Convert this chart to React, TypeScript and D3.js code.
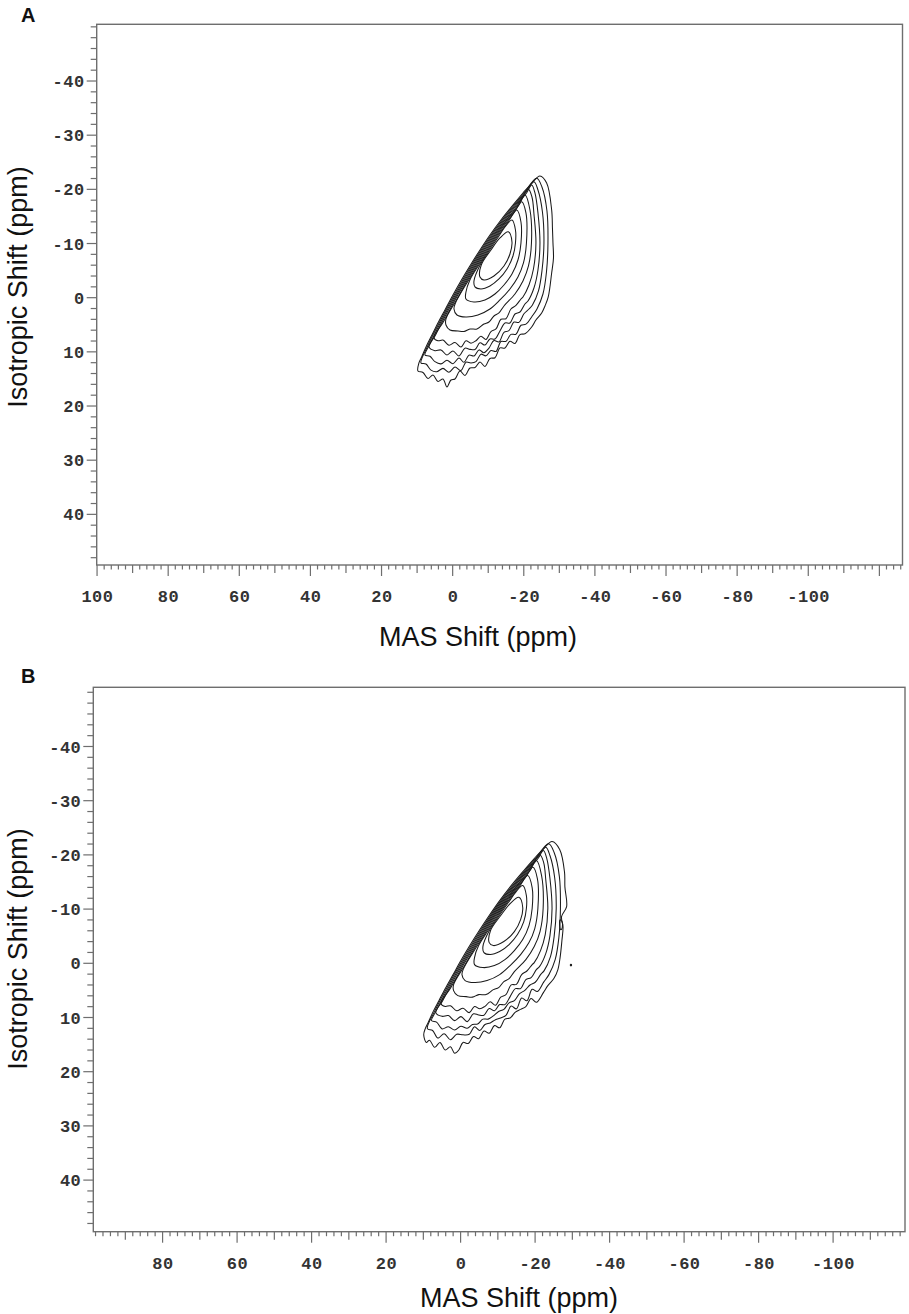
import React, { useEffect } from 'react';
import * as d3 from 'd3';

// tick labels
const isoTickLabels = [-40, -30, -20, -10, 0, 10, 20, 30, 40];
const masTickLabelsA = [100, 80, 60, 40, 20, 0, -20, -40, -60, -80, -100];
const masTickLabelsB = [80, 60, 40, 20, 0, -20, -40, -60, -80, -100];

// contour rings, [MAS ppm, isotropic ppm], outermost first
const ring0: [number, number][] = [
  [-24.55, -22.47], [-26.43, -21.17], [-27.84, -16.19], [-28.06, -12.87], [-28.21, -10.1],
  [-28.35, -7.33], [-27.84, -4.56], [-26.88, -0.13], [-25.96, 1.53], [-25.03, 2.82],
  [-23.42, 4.12], [-22.22, 5.41], [-20.33, 6.66], [-18.93, 6.81], [-17.52, 8.44],
  [-16.11, 8.03], [-14.71, 9.29], [-13.3, 9.27], [-11.9, 11.08], [-10.49, 11.22],
  [-9.08, 12.7], [-7.68, 11.87], [-6.27, 12.89], [-4.86, 12.98], [-3.46, 14.36],
  [-2.05, 13.53], [-0.65, 15.01], [0.48, 15.19], [1.6, 16.48], [2.73, 15.01],
  [4.13, 15.47], [5.54, 14.27], [6.95, 14.92], [8.35, 13.81], [9.76, 13.53],
  [9.48, 12.05], [8.72, 10.95], [7.37, 8.92], [5.82, 6.89], [3.99, 4.49],
  [2.17, 2.27], [-0.08, -0.5], [-2.47, -3.27], [-5.01, -6.04], [-7.68, -8.81],
  [-10.49, -11.57], [-13.58, -14.34], [-16.96, -17.11], [-19.77, -19.33], [-22.3, -21.17],
];
const ring1: [number, number][] = [
  [-23.62, -22.04], [-25.11, -20.44], [-26.52, -16.0], [-26.8, -10.1], [-26.38, -4.74],
  [-25.39, -0.68], [-23.71, 2.09], [-22.3, 3.47], [-20.61, 4.89], [-19.21, 5.09],
  [-17.8, 6.76], [-16.39, 6.77], [-14.99, 8.07], [-13.58, 8.09], [-12.18, 9.93],
  [-10.77, 9.77], [-9.36, 10.74], [-7.96, 10.43], [-6.55, 11.8], [-5.15, 12.04],
  [-3.74, 11.91], [-2.33, 13.44], [-0.65, 12.79], [1.04, 13.75], [2.73, 13.05],
  [4.42, 13.66], [6.1, 13.38], [7.51, 12.24], [8.91, 12.05], [7.03, 8.92],
  [3.66, 4.49], [-0.42, -0.5], [-5.34, -6.04], [-10.83, -11.57], [-17.29, -17.11],
  [-20.11, -19.33],
];
const ring2: [number, number][] = [
  [-22.86, -21.41], [-23.99, -19.88], [-25.25, -15.82], [-25.67, -10.1], [-25.11, -4.93],
  [-24.13, -1.24], [-22.44, 1.35], [-21.46, 2.09], [-20.05, 2.97], [-18.64, 4.56],
  [-17.24, 4.5], [-15.83, 6.09], [-14.43, 6.39], [-13.02, 8.16], [-11.61, 7.9],
  [-10.21, 9.3], [-8.8, 10.15], [-7.4, 9.64], [-5.99, 10.76], [-4.58, 10.61],
  [-3.18, 11.93], [-1.77, 11.15], [-0.08, 12.18], [1.6, 11.56], [3.29, 12.22],
  [4.98, 11.81], [6.38, 10.82], [7.79, 10.58], [6.69, 8.92], [3.32, 4.49],
  [-0.76, -0.5], [-5.68, -6.04], [-11.16, -11.57], [-17.63, -17.11], [-20.44, -19.33],
];
const ring3: [number, number][] = [
  [-22.22, -20.8], [-23.14, -19.33], [-23.99, -15.64], [-24.55, -10.1], [-23.99, -5.11],
  [-22.86, -1.79], [-21.18, 0.61], [-20.33, 1.16], [-18.93, 2.64], [-17.52, 3.01],
  [-16.11, 4.67], [-14.71, 4.67], [-13.3, 6.15], [-11.9, 7.62], [-10.49, 7.62],
  [-9.08, 8.75], [-7.68, 8.34], [-6.27, 9.58], [-4.86, 9.54], [-3.46, 9.32],
  [-1.77, 10.76], [-0.08, 9.84], [1.6, 10.58], [3.29, 9.65], [4.98, 9.78],
  [6.66, 9.1], [4.81, 6.89], [2.98, 4.49], [-1.1, -0.5], [-6.02, -6.04],
  [-11.5, -11.57], [-17.97, -17.11], [-20.78, -19.33],
];
const ring4: [number, number][] = [
  [-21.26, -20.01], [-22.3, -18.59], [-22.86, -15.45], [-23.42, -10.1], [-22.72, -5.3],
  [-21.46, -2.34], [-19.77, -0.13], [-19.21, 0.24], [-17.8, 1.42], [-16.39, 2.09],
  [-14.99, 3.88], [-13.58, 3.99], [-12.18, 5.78], [-10.77, 6.26], [-9.36, 7.73],
  [-7.96, 7.11], [-6.55, 7.94], [-5.15, 8.4], [-3.74, 7.96], [-2.33, 9.1],
  [-0.65, 8.29], [1.04, 8.77], [2.73, 7.83], [4.13, 7.96], [5.26, 7.44],
  [2.64, 4.49], [-1.43, -0.5], [-6.36, -6.04], [-11.84, -11.57], [-18.31, -17.11],
];
const ring5: [number, number][] = [
  [-20.33, -18.96], [-21.74, -16.19], [-22.16, -10.1], [-21.32, -5.85], [-19.77, -3.08],
  [-17.52, -0.68], [-14.43, 1.53], [-13.02, 2.82], [-11.61, 3.38], [-10.21, 4.49],
  [-8.8, 4.86], [-6.83, 5.78], [-4.86, 5.78], [-3.18, 6.24], [-1.49, 6.15],
  [0.76, 5.96], [1.88, 5.04], [1.88, 3.93], [-1.07, 0.42], [-4.16, -3.27],
  [-6.69, -6.04], [-9.36, -8.81], [-12.18, -11.57], [-15.27, -14.34], [-18.64, -17.11],
];
const ring6: [number, number][] = [
  [-19.4, -17.72], [-20.61, -15.64], [-20.75, -10.1], [-19.91, -6.41], [-18.36, -3.82],
  [-16.11, -1.61], [-13.3, 0.42], [-10.49, 2.09], [-7.11, 3.19], [-3.74, 3.56],
  [-1.21, 3.19], [-0.37, 2.09], [-0.79, 0.98], [-4.5, -3.27], [-7.03, -6.04],
  [-9.7, -8.81], [-12.51, -11.57], [-15.61, -14.34], [-17.41, -15.82],
];
const ring7: [number, number][] = [
  [-18.0, -16.19], [-19.21, -13.97], [-19.21, -10.1], [-18.36, -6.96], [-16.68, -4.38],
  [-14.43, -2.34], [-11.9, -0.68], [-9.08, 0.42], [-5.99, 0.79], [-3.74, 0.24],
  [-3.74, -1.05], [-4.84, -3.27], [-7.37, -6.04], [-10.04, -8.81], [-12.85, -11.57],
  [-15.94, -14.34],
];
const ring8: [number, number][] = [
  [-16.68, -14.34], [-17.66, -12.5], [-17.66, -10.1], [-16.96, -7.7], [-15.27, -5.3],
  [-13.02, -3.45], [-10.49, -2.16], [-7.96, -1.61], [-6.27, -1.98], [-5.99, -3.08],
  [-7.71, -6.04], [-10.38, -8.81], [-13.19, -11.57], [-14.71, -13.05],
];
const ring9: [number, number][] = [
  [-15.64, -12.18], [-16.68, -10.28], [-16.11, -8.07], [-14.43, -5.85], [-11.61, -4.01],
  [-8.8, -3.27], [-7.68, -3.82], [-8.04, -6.04], [-10.77, -8.81], [-13.3, -11.02],
];

// panel B: the three outer levels are noisier, with a notch on the right flank
const ring0B: [number, number][] = [
  [-24.55, -22.47], [-26.6, -21.0], [-27.9, -16.8], [-28.0, -14.1], [-28.46, -10.44],
  [-27.1, -8.6], [-27.5, -6.75], [-27.2, -4.2], [-26.7, -1.0], [-26.1, 1.2],
  [-25.03, 2.82], [-23.42, 4.12], [-22.22, 5.41], [-20.33, 7.2], [-18.93, 6.5],
  [-17.52, 8.0], [-16.11, 8.5], [-14.71, 9.0], [-13.3, 10.1], [-11.9, 10.3],
  [-10.49, 11.9], [-9.08, 11.5], [-7.68, 12.9], [-6.27, 12.5], [-4.86, 13.9],
  [-3.46, 13.5], [-2.05, 14.8], [-0.65, 14.6], [0.48, 16.0], [1.6, 16.6],
  [2.73, 15.4], [4.13, 16.0], [5.54, 14.6], [6.95, 15.5], [8.35, 14.2],
  [9.2, 14.6], [9.9, 13.2], [9.48, 12.05], [8.72, 10.95], [7.37, 8.92],
  [5.82, 6.89], [3.99, 4.49], [2.17, 2.27], [-0.08, -0.5], [-2.47, -3.27],
  [-5.01, -6.04], [-7.68, -8.81], [-10.49, -11.57], [-13.58, -14.34], [-16.96, -17.11],
  [-19.77, -19.33], [-22.3, -21.17],
];
const ring1B: [number, number][] = [
  [-23.62, -22.04], [-25.11, -20.44], [-26.52, -16.0], [-26.8, -10.1], [-26.38, -4.74],
  [-25.39, -0.68], [-23.71, 2.09], [-22.3, 3.47], [-20.61, 5.2], [-19.21, 4.8],
  [-17.8, 6.9], [-16.39, 6.4], [-14.99, 8.4], [-13.58, 7.9], [-12.18, 9.6],
  [-10.77, 10.1], [-9.36, 10.4], [-7.96, 11.0], [-6.55, 11.3], [-5.15, 12.4],
  [-3.74, 11.7], [-2.33, 13.1], [-0.65, 13.2], [1.04, 13.1], [2.73, 14.1],
  [4.42, 13.0], [6.1, 13.8], [7.51, 12.4], [8.91, 12.05], [7.03, 8.92],
  [3.66, 4.49], [-0.42, -0.5], [-5.34, -6.04], [-10.83, -11.57], [-17.29, -17.11],
  [-20.11, -19.33],
];
const ring2B: [number, number][] = [
  [-22.86, -21.41], [-23.99, -19.88], [-25.25, -15.82], [-25.67, -10.1], [-25.11, -4.93],
  [-24.13, -1.24], [-22.44, 1.35], [-21.46, 2.09], [-20.05, 3.5], [-18.64, 4.0],
  [-17.24, 5.0], [-15.83, 5.6], [-14.43, 6.9], [-13.02, 7.3], [-11.61, 8.5],
  [-10.21, 8.9], [-8.8, 9.7], [-7.4, 10.3], [-5.99, 10.3], [-4.58, 11.2],
  [-3.18, 11.3], [-1.77, 12.0], [-0.08, 11.6], [1.6, 12.3], [3.29, 11.7],
  [4.98, 12.1], [6.38, 10.9], [7.79, 10.58], [6.69, 8.92], [3.32, 4.49],
  [-0.76, -0.5], [-5.68, -6.04], [-11.16, -11.57], [-17.63, -17.11], [-20.44, -19.33],
];
const islandB: [number, number][] = [
  [-26.7, -8.0], [-27.2, -7.7], [-27.3, -6.6], [-26.9, -6.2], [-26.6, -7.0],
];
const dotB: [number, number][] = [
  [-29.5, 0.2], [-29.75, 0.2], [-29.75, 0.45], [-29.5, 0.45],
];

const ringsA = [ring0, ring1, ring2, ring3, ring4, ring5, ring6, ring7, ring8, ring9];
const ringsB = [ring0B, ring1B, ring2B, ring3, ring4, ring5, ring6, ring7, ring8, ring9, islandB, dotB];

interface PanelSpec {
  label: string;
  rings: [number, number][][];
  masDomain: [number, number];
  isoDomain: [number, number];
  left: number;
  right: number;
  top: number;
  bottom: number;
  masLabels: number[];
  labelY: number;
  masTitleX: number;
  masTitleY: number;
  isoTitleY: number;
}

const panels: PanelSpec[] = [
  {
    label: 'A', rings: ringsA, masDomain: [100.1, -126.5], isoDomain: [-50.47, 49.35],
    left: 96.7, right: 902.5, top: 24.3, bottom: 565,
    masLabels: masTickLabelsA, labelY: 21.5, masTitleX: 478, masTitleY: 646, isoTitleY: 287,
  },
  {
    label: 'B', rings: ringsB, masDomain: [98.6, -119.3], isoDomain: [-50.92, 49.52],
    left: 93.3, right: 905, top: 687.3, bottom: 1231.7,
    masLabels: masTickLabelsB, labelY: 682.5, masTitleX: 519, masTitleY: 1307, isoTitleY: 949,
  },
];

const axisColor = '#6e6e6e';
const tickFont = { fontFamily: 'Liberation Mono, monospace', fontWeight: 700, fontSize: 17, fill: '#333', letterSpacing: 0.5 };
const titleFont = { fontFamily: 'Liberation Sans, Arial, sans-serif', fontSize: 27, fill: '#111' };

const Spectrum: React.FC<{ p: PanelSpec }> = ({ p }) => {
  const x = d3.scaleLinear().domain(p.masDomain).range([p.left, p.right]);
  const y = d3.scaleLinear().domain(p.isoDomain).range([p.top, p.bottom]);

  const line = d3.line<[number, number]>()
    .x(d => x(d[0]))
    .y(d => y(d[1]))
    .curve(d3.curveCatmullRomClosed.alpha(0.5));

  const isoTicks = d3.range(-50, 50, 2).filter(v => y(v) >= p.top && y(v) <= p.bottom);
  const masTicks = d3.range(100, -128, -2).filter(v => x(v) >= p.left - 0.5 && x(v) <= p.right + 0.5);

  return (
    <g>
      <text x={21} y={p.labelY} style={{ fontFamily: 'Liberation Sans, Arial, sans-serif', fontWeight: 700, fontSize: 20, fill: '#111' }}>
        {p.label}
      </text>

      {/* contours */}
      <g fill="none" stroke="#1a1a1a" strokeWidth={1.05} strokeLinejoin="round">
        {p.rings.map((r, i) => (
          <path key={i} d={line(r) || ''} />
        ))}
      </g>

      {/* frame */}
      <rect x={p.left} y={p.top} width={p.right - p.left} height={p.bottom - p.top}
        fill="none" stroke={axisColor} strokeWidth={1.4} />

      {/* isotropic axis */}
      {isoTicks.map(v => {
        const major = v % 10 === 0 && v !== -50;
        return <line key={v} x1={p.left} x2={p.left - (major ? 10 : 6)} y1={y(v)} y2={y(v)} stroke={axisColor} strokeWidth={1.2} />;
      })}
      {isoTickLabels.map(v => (
        <text key={v} x={p.left - 12} y={y(v)} dy="0.36em" textAnchor="end" style={tickFont}>{v}</text>
      ))}

      {/* MAS axis */}
      {masTicks.map(v => {
        const len = v % 20 === 0 ? 11 : v % 10 === 0 ? 8 : 4.5;
        return <line key={v} x1={x(v)} x2={x(v)} y1={p.bottom} y2={p.bottom + len} stroke={axisColor} strokeWidth={1.2} />;
      })}
      {p.masLabels.map(v => (
        <text key={v} x={x(v) + 0.4} y={p.bottom + 37} textAnchor="middle" style={tickFont}>{v}</text>
      ))}

      <text x={p.masTitleX} y={p.masTitleY} textAnchor="middle" style={titleFont}>MAS Shift (ppm)</text>
      <text transform={`translate(27,${p.isoTitleY}) rotate(-90)`} textAnchor="middle" style={titleFont}>
        Isotropic Shift (ppm)
      </text>
    </g>
  );
};

export default function App() {
  useEffect(() => {
    document.body.style.margin = '0';
    document.body.style.overflow = 'hidden';
  }, []);

  return (
    <svg width={909} height={1314} viewBox="0 0 909 1314"
      style={{ position: 'absolute', left: 0, top: 0, background: '#fff' }}>
      <rect width={909} height={1314} fill="#fff" />
      {panels.map(p => <Spectrum key={p.label} p={p} />)}
    </svg>
  );
}
